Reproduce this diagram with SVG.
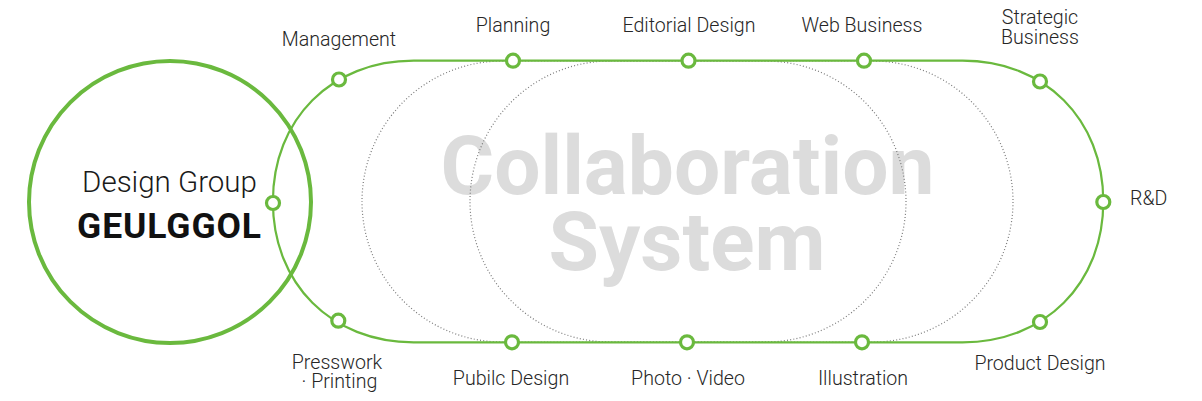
<svg xmlns="http://www.w3.org/2000/svg" width="1202" height="401" viewBox="0 0 1202 401">
  <style>
    .lbl { font-family: Roboto, "Liberation Sans", sans-serif; font-weight: 300; font-size: 19.6px; fill: #262626; text-anchor: middle; }
    .dot { fill: none; stroke: #7a7a7a; stroke-width: 1.2; stroke-dasharray: 1 2.2; }
    .node { fill: #ffffff; stroke: #6ab93e; stroke-width: 3.2; }
    .big { font-family: Roboto, "Liberation Sans", sans-serif; font-weight: 700; font-size: 82px; fill: #dcdcdc; text-anchor: middle; }
  </style>
  <rect width="1202" height="401" fill="#ffffff"/>

  <g id="background-title">
    <text class="big" x="687.5" y="194">Collaboration</text>
    <text class="big" x="687" y="270">System</text>
  </g>

  <g id="dotted-rings">
    <rect class="dot" x="362" y="61" width="544" height="281" rx="140.5" ry="140.5"/>
    <rect class="dot" x="470" y="61" width="543" height="281" rx="140.5" ry="140.5"/>
  </g>

  <g id="connectors">
    <path id="collab-ring" d="M 413.7 60.7 H 962.5 C 1044.9 60.7 1103.3 119.1 1103.3 201.5 C 1103.3 283.9 1044.9 342.3 962.5 342.3 H 413.7 C 331.3 342.3 272.9 283.9 272.9 201.5 C 272.9 119.1 331.3 60.7 413.7 60.7 Z" fill="none" stroke="#6ab93e" stroke-width="2.2"/>
  </g>

  <g id="design-group">
    <circle cx="170" cy="202" r="141" fill="none" stroke="#6ab93e" stroke-width="4"/>
    <text x="169.5" y="191.7" style="font-family: Roboto, 'Liberation Sans', sans-serif; font-weight: 300; font-size: 29.5px; fill: #1a1a1a; text-anchor: middle;">Design Group</text>
    <text x="169.5" y="237.7" style="font-family: Roboto, 'Liberation Sans', sans-serif; font-weight: 700; font-size: 35.5px; fill: #111111; text-anchor: middle; letter-spacing: 0.9px;">GEULGGOL</text>
  </g>

  <g id="node-link"><circle class="node" cx="273" cy="203" r="6.5"/></g>
  <g id="node-management"><circle class="node" cx="339" cy="79.5" r="6.5"/><text class="lbl" x="339" y="46">Management</text></g>
  <g id="node-planning"><circle class="node" cx="513" cy="60.7" r="6.5"/><text class="lbl" x="513" y="31.7">Planning</text></g>
  <g id="node-editorial"><circle class="node" cx="688.5" cy="60.7" r="6.5"/><text class="lbl" x="689" y="31.7">Editorial Design</text></g>
  <g id="node-web"><circle class="node" cx="864" cy="60.7" r="6.5"/><text class="lbl" x="862" y="31.7">Web Business</text></g>
  <g id="node-strategic"><circle class="node" cx="1040" cy="81.5" r="6.5"/><text class="lbl" x="1040" y="24">Strategic</text><text class="lbl" x="1040" y="44">Business</text></g>
  <g id="node-rd"><circle class="node" cx="1103.3" cy="202" r="6.5"/><text class="lbl" x="1130" y="205" style="text-anchor: start;">R&amp;D</text></g>
  <g id="node-product"><circle class="node" cx="1040" cy="322" r="6.5"/><text class="lbl" x="1040" y="370">Product Design</text></g>
  <g id="node-illustration"><circle class="node" cx="862" cy="342.3" r="6.5"/><text class="lbl" x="863" y="385">Illustration</text></g>
  <g id="node-photo"><circle class="node" cx="687" cy="342.3" r="6.5"/><text class="lbl" x="688" y="385">Photo · Video</text></g>
  <g id="node-public"><circle class="node" cx="512" cy="342.3" r="6.5"/><text class="lbl" x="511" y="385">Pubilc Design</text></g>
  <g id="node-presswork"><circle class="node" cx="338.3" cy="320.7" r="6.5"/><text class="lbl" x="337" y="369">Presswork</text><text class="lbl" x="339.5" y="388">· Printing</text></g>
</svg>
